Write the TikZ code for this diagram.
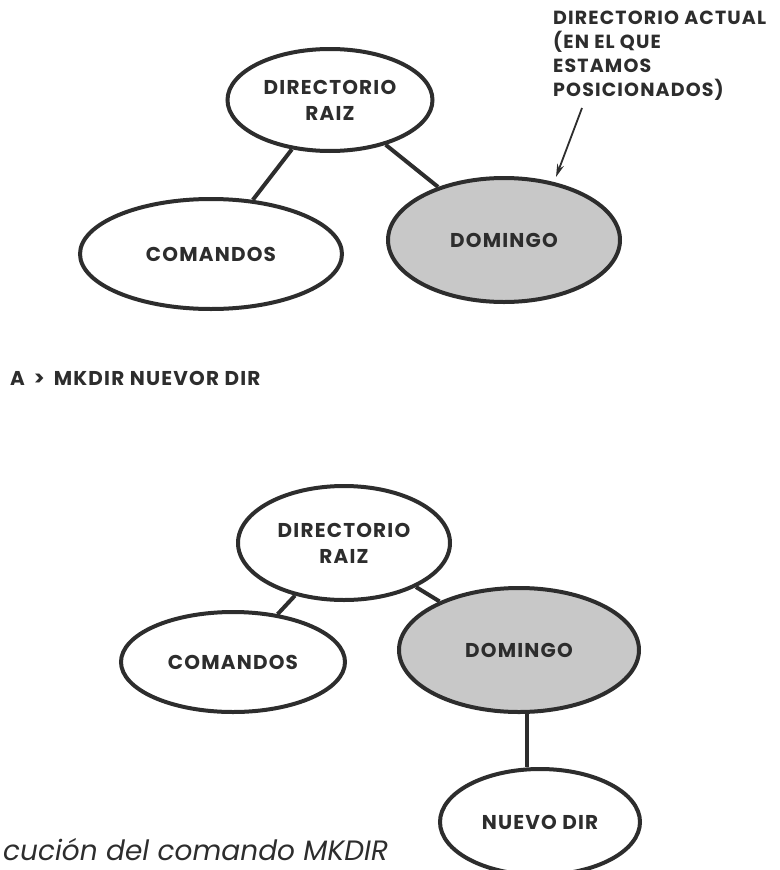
\documentclass[tikz,border=0pt]{standalone}
\usepackage{fontspec}
\setmainfont{Poppins}
\newfontfamily\widefont[LetterSpace=6]{Poppins}
\usetikzlibrary{shapes.geometric,arrows.meta}
\definecolor{cellgray}{RGB}{200,200,200}
\definecolor{ink}{RGB}{45,45,45}
\tikzset{
  dirnode/.style={ellipse, draw=ink, line width=4pt, fill=white, inner sep=0pt, text=ink, font=\widefont\bfseries\fontsize{20}{26}\selectfont, align=center},
  cur/.style={fill=cellgray},
  conn/.style={draw=ink, line width=4pt},
  lbl/.style={text=ink, font=\widefont\bfseries\fontsize{19}{24}\selectfont, align=left, inner sep=0pt}
}
\begin{document}
\begin{tikzpicture}[x=1pt,y=-1pt]
\useasboundingbox (0,0) rectangle (779,870);
\clip (0,0) rectangle (779,870);
% top diagram
\node[dirnode, minimum width=205, minimum height=102] (r1) at (330,100) {DIRECTORIO\\RAIZ};
\node[dirnode, minimum width=262, minimum height=110] (c1) at (211,254) {COMANDOS};
\node[dirnode, cur, minimum width=232, minimum height=124] (d1) at (504,240) {DOMINGO};
\draw[conn] (r1) -- (c1);
\draw[conn] (r1) -- (d1);
\node[lbl, anchor=north west] (note) at (553,11) {DIRECTORIO ACTUAL\\(EN EL QUE\\ESTAMOS\\POSICIONADOS)};
\coordinate (tail) at (582,108);
\coordinate (tip) at (556,177);
\draw[draw=ink, line width=1.8pt, -{Stealth[length=13pt,width=7pt]}] (tail) -- (tip);
% command
\node[lbl, font=\widefont\bfseries\fontsize{20}{24}\selectfont, anchor=west] (cmd) at (10,378) {A\hspace{9pt}>\hspace{9pt}MKDIR NUEVOR DIR};
% bottom diagram
\node[dirnode, minimum width=212, minimum height=114] (r2) at (344,543) {DIRECTORIO\\RAIZ};
\node[dirnode, minimum width=224, minimum height=100] (c2) at (233,662) {COMANDOS};
\node[dirnode, cur, minimum width=240, minimum height=124] (d2) at (519,650) {DOMINGO};
\node[dirnode, minimum width=200, minimum height=106] (n2) at (540,822) {NUEVO DIR};
\draw[conn] (r2) -- (c2);
\draw[conn] (r2) -- (d2);
\draw[conn] (527,712) -- (n2.north -| 527,0);
\node[text=ink, font=\itshape\fontsize{28}{32}\selectfont, anchor=base west, inner sep=0pt] (cap) at (3,860) {cución del comando MKDIR};
\end{tikzpicture}
\end{document}
